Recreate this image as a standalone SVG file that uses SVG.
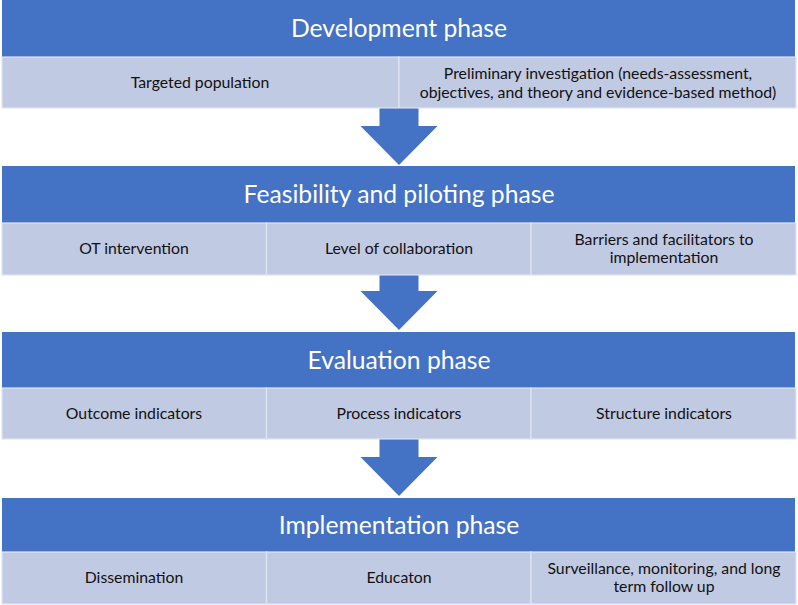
<svg xmlns="http://www.w3.org/2000/svg" width="798" height="605" viewBox="0 0 798 605">
<style>
.hdr{fill:#4472c4}
.cell{fill:#c1cae3;stroke:#dfe4f1;stroke-width:1.2}
.arrow{fill:#4472c4}
.ht{font-family:Lato,"Open Sans",sans-serif;font-size:24.7px;fill:#ffffff;text-anchor:middle}
.ct{font-family:Lato,"Open Sans",sans-serif;font-size:15.8px;fill:#111111;text-anchor:middle}
</style>
<rect width="798" height="605" fill="#ffffff"/>
<g id="development">
<rect class="hdr" x="2" y="0" width="793" height="57"/>
<text class="ht" x="399" y="37">Development phase</text>
<rect class="cell" x="2" y="57" width="397" height="51"/>
<text class="ct" x="200" y="88">Targeted population</text>
<rect class="cell" x="399" y="57" width="397" height="51"/>
<text class="ct" x="598" y="79">Preliminary investigation (needs-assessment,</text>
<text class="ct" x="598" y="98">objectives, and theory and evidence-based method)</text>
</g>
<g id="feasibility">
<rect class="hdr" x="2" y="166" width="793" height="57"/>
<text class="ht" x="399" y="203">Feasibility and piloting phase</text>
<rect class="cell" x="2" y="223" width="264.5" height="52"/>
<text class="ct" x="134" y="254">OT intervention</text>
<rect class="cell" x="266.5" y="223" width="264.5" height="52"/>
<text class="ct" x="399" y="254">Level of collaboration</text>
<rect class="cell" x="531" y="223" width="265" height="52"/>
<text class="ct" x="664" y="245">Barriers and facilitators to</text>
<text class="ct" x="664" y="263">implementation</text>
</g>
<g id="evaluation">
<rect class="hdr" x="2" y="332" width="793" height="56"/>
<text class="ht" x="399" y="369">Evaluation phase</text>
<rect class="cell" x="2" y="388" width="264.5" height="51"/>
<text class="ct" x="134" y="419">Outcome indicators</text>
<rect class="cell" x="266.5" y="388" width="264.5" height="51"/>
<text class="ct" x="399" y="419">Process indicators</text>
<rect class="cell" x="531" y="388" width="265" height="51"/>
<text class="ct" x="664" y="419">Structure indicators</text>
</g>
<g id="implementation">
<rect class="hdr" x="2" y="498" width="793" height="54"/>
<text class="ht" x="399" y="534">Implementation phase</text>
<rect class="cell" x="2" y="552" width="264.5" height="52"/>
<text class="ct" x="134" y="583">Dissemination</text>
<rect class="cell" x="266.5" y="552" width="264.5" height="52"/>
<text class="ct" x="399" y="583">Educaton</text>
<rect class="cell" x="531" y="552" width="265" height="52"/>
<text class="ct" x="664" y="574">Surveillance, monitoring, and long</text>
<text class="ct" x="664" y="592">term follow up</text>
</g>
<g id="connectors">
<polygon class="arrow" points="379.5,108.5 418.5,108.5 418.5,126 437.5,126 399,165 360.5,126 379.5,126"/>
<polygon class="arrow" points="379.5,275.5 418.5,275.5 418.5,291 437.5,291 399,330 360.5,291 379.5,291"/>
<polygon class="arrow" points="379.5,439.5 418.5,439.5 418.5,457 437.5,457 399,496 360.5,457 379.5,457"/>
</g>
</svg>
